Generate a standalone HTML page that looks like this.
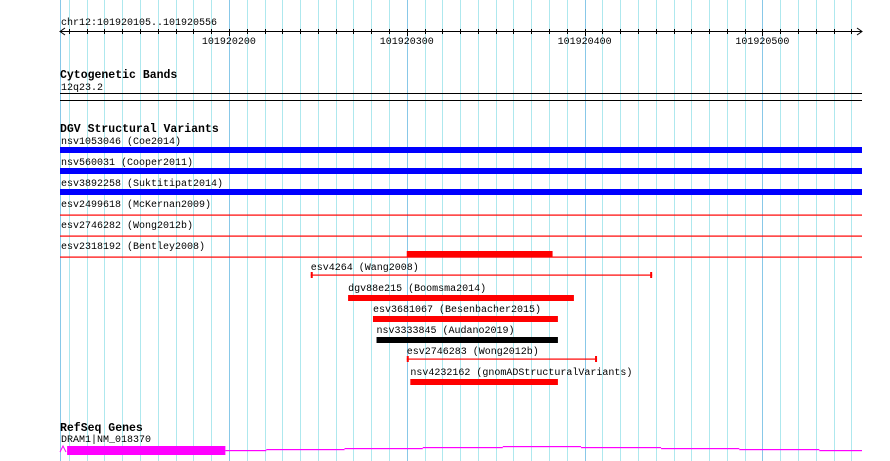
<!DOCTYPE html>
<html><head><meta charset="utf-8"><style>
body{margin:0;background:#fff}
svg{display:block}
text{font-family:"Liberation Mono","DejaVu Sans Mono",monospace;font-size:10px;fill:#000}
.t{font-weight:bold;font-size:11.5px}
</style></head><body>
<svg id="c" width="890" height="461"></svg>
<script>
const startBp=101920105, endBp=101920556;
const majorTicks=[101920200,101920300,101920400,101920500];
const fullRows=[["nsv1053046 (Coe2014)","blue"],["nsv560031 (Cooper2011)","blue"],["esv3892258 (Suktitipat2014)","blue"],["esv2499618 (McKernan2009)","line"],["esv2746282 (Wong2012b)","line"],["esv2318192 (Bentley2008)","line"]];
const partial=[["esv4264 (Wang2008)",101920246,101920438,"span"],["dgv88e215 (Boomsma2014)",101920267,101920394,"red"],["esv3681067 (Besenbacher2015)",101920281,101920385,"red"],["nsv3333845 (Audano2019)",101920283,101920385,"black"],["esv2746283 (Wong2012b)",101920300,101920407,"span"],["nsv4232162 (gnomADStructuralVariants)",101920302,101920385,"red"]];
const extraBar=[101920300,101920382];
const exon=[101920109,101920198];
const intronSteps=[[101920198,101920221,4],[101920221,101920265,3],[101920265,101920309,2],[101920309,101920354,1],[101920354,101920398,0],[101920398,101920443,1],[101920443,101920487,2],[101920487,101920532,3],[101920532,101920556,4]];
const x0=60,x1=862;
const X=bp=>x0+(bp-startBp)*(x1-x0)/(endBp-startBp);
const svg=document.getElementById('c');const NS='http://www.w3.org/2000/svg';
function el(tag,a,name,txt){const e=document.createElementNS(NS,tag);for(const k in a)e.setAttribute(k,a[k]);


if(txt!==undefined)e.textContent=txt;svg.appendChild(e);return e;}
// grid
for(let bp=Math.ceil(startBp/10)*10;bp<=endBp;bp+=10){const x=Math.round(X(bp))+0.5;
el('line',{x1:x,x2:x,y1:0,y2:461,stroke:bp%100===0?'#88c8e8':'#aee8ee','stroke-width':1},'grid-line');}
el('line',{x1:60.5,x2:60.5,y1:0,y2:461,stroke:'#88c8e8'},'grid-left');
// ruler
el('text',{x:61,y:25},'ruler-title','chr12:101920105..101920556');
el('line',{x1:x0,x2:x1,y1:31.5,y2:31.5,stroke:'#000'},'ruler-axis');
el('polyline',{points:`${x0+5},28 ${x0},31.5 ${x0+5},35`,fill:'none',stroke:'#000'},'ruler-arrow-left');
el('polyline',{points:`${x1-5},28 ${x1},31.5 ${x1-5},35`,fill:'none',stroke:'#000'},'ruler-arrow-right');
for(let bp=Math.ceil(startBp/10)*10;bp<=endBp;bp+=10){const x=Math.round(X(bp))+0.5;
el('line',{x1:x,x2:x,y1:29,y2:bp%100===0?36:34,stroke:'#000'},'ruler-tick');}
majorTicks.forEach(t=>el('text',{x:X(t),y:44,'text-anchor':'middle'},'ruler-label',String(t)));
// cytobands
el('text',{x:60,y:78,class:'t'},'cytoband-title','Cytogenetic Bands');
el('text',{x:61,y:90},'cytoband-label','12q23.2');
el('rect',{x:x0,y:93,width:x1-x0,height:1,fill:'#000'},'cytoband-line-1');
el('rect',{x:x0,y:100,width:x1-x0,height:1,fill:'#000'},'cytoband-line-2');
// DGV
el('text',{x:60,y:132,class:'t'},'dgv-title','DGV Structural Variants');
fullRows.forEach((r,i)=>{const y=140+21*i;
el('text',{x:61,y:y+4},'variant-label',r[0]);
if(r[1]==='blue')el('rect',{x:x0,y:y+7,width:x1-x0,height:6,fill:'#0000ff'},'variant-bar-blue');
else el('rect',{x:x0,y:y+72-72+11.5,width:x1-x0,height:1.2,fill:'#ff0000'},'variant-line');});
el('rect',{x:X(extraBar[0]),y:251,width:X(extraBar[1])-X(extraBar[0]),height:6,fill:'#ff0000'},'variant-bar-extra');
partial.forEach((r,i)=>{const y=266+21*i,a=X(r[1]),b=X(r[2]);
el('text',{x:a,y:y+4},'variant-label',r[0]);
if(r[3]==='span'){el('rect',{x:a,y:y+8.5,width:b-a,height:1.2,fill:'#ff0000'},'variant-span');
el('rect',{x:a,y:y+6,width:2,height:6,fill:'#ff0000'},'variant-cap');el('rect',{x:b-2,y:y+6,width:2,height:6,fill:'#ff0000'},'variant-cap');}
else el('rect',{x:a,y:y+28-28+8,width:b-a,height:6,fill:r[3]==='black'?'#000':'#ff0000'},'variant-bar');});
// RefSeq
el('text',{x:60,y:431,class:'t'},'refseq-title','RefSeq Genes');
el('text',{x:61,y:442},'gene-label','DRAM1|NM_018370');
el('polyline',{points:'60,452 63,446 66,452',fill:'none',stroke:'#ff00ff'},'gene-chevron');
el('rect',{x:X(exon[0]),y:446,width:X(exon[1])-X(exon[0]),height:9,fill:'#ff00ff'},'gene-exon');
intronSteps.forEach(s=>el('rect',{x:X(s[0]),y:446+s[2],width:X(s[1])-X(s[0]),height:1.2,fill:'#ff00ff'},'gene-intron'));
</script></body></html>
